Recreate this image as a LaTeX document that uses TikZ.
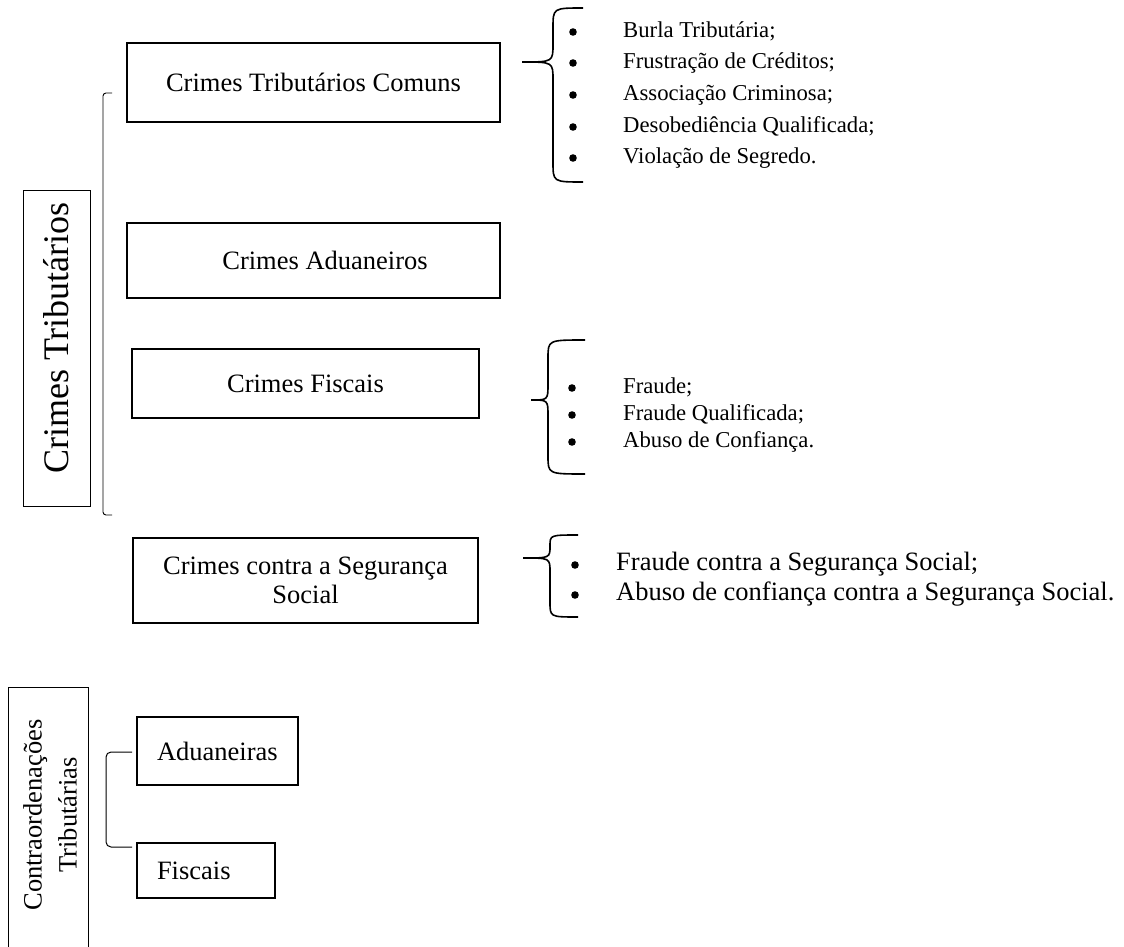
\documentclass[tikz,border=0pt]{standalone}
\usepackage{fontspec}
\setmainfont{Liberation Serif}
\usetikzlibrary{positioning}
\newcommand{\tamDoze}{\fontsize{22.7}{27}\selectfont}
\newcommand{\tamCatorze}{\fontsize{26.5}{31}\selectfont}
\newcommand{\tamGrande}{\fontsize{36}{40}\selectfont}

\begin{document}
\begin{tikzpicture}[x=1pt,y=-1pt,
  caixa/.style={draw,line width=2pt,inner sep=0pt,font=\tamCatorze,align=center},
  item/.style={anchor=west,inner sep=0pt,font=\tamDoze,text height=16pt,text depth=5pt},
  chaveta/.style={line width=1.6pt},
  traco/.style={line width=0.9pt,rounded corners=3pt}]
\useasboundingbox (0,0) rectangle (1124,947);

% crimes tributarios
\draw[line width=1pt] (23,190) rectangle (90,506);
\node[rotate=90,inner sep=0pt,font=\tamGrande] (tributarios) at (56.5,338) {Crimes Tributários};
\draw[traco] (112,93) -- (103,93) -- (103,515) -- (112,515);

\node[caixa,minimum width=373,minimum height=79] (comuns) at (313.5,82.5) {Crimes Tributários Comuns};
\node[caixa,minimum width=373,minimum height=75] (aduaneiros) at (313.5,260.5) {\hspace*{23pt}Crimes Aduaneiros};
\node[caixa,line width=1.5pt,minimum width=347,minimum height=69] (fiscais) at (305.5,383.5) {Crimes Fiscais};
\node[caixa,minimum width=345,minimum height=85] (seguranca) at (305.5,580.5) {Crimes contra a Segurança\\[-2pt]Social};

% chavetas
\draw[chaveta] (583,8) .. controls (553,8) .. (553,28) -- (553,44) .. controls (553,62) .. (522,62) .. controls (553,62) .. (553,80) -- (553,162) .. controls (553,182) .. (583,182);
\draw[chaveta] (585,340) .. controls (548,340) .. (548,358) -- (548,384) .. controls (548,400) .. (531,400) .. controls (548,400) .. (548,416) -- (548,456) .. controls (548,474) .. (585,474);
\draw[chaveta] (578,535) .. controls (550,535) .. (550,546) .. controls (550,558) .. (523,558) .. controls (550,558) .. (550,572) -- (550,602) .. controls (550,617) .. (578,617);

% listas
\foreach \y/\t [count=\i] in {32/{Burla Tributária;},63/{Frustração de Créditos;},95/{Associação Criminosa;},127/{Desobediência Qualificada;},158/{Violação de Segredo.}} {
  \fill (573,\y) circle (3.8pt);
  \node[item] (comum\i) at (623,\y) {\t};
}
\foreach \y/\t [count=\i] in {388/{Fraude;},415/{Fraude Qualificada;},442/{Abuso de Confiança.}} {
  \fill (572,\y) circle (3.8pt);
  \node[item] (fiscal\i) at (623,\y) {\t};
}
\foreach \y/\t [count=\i] in {565/{Fraude contra a Segurança Social;},595/{Abuso de confiança contra a Segurança Social.}} {
  \fill (575,\y) circle (3.8pt);
  \node[item,font=\tamCatorze] (social\i) at (616,\y) {\t};
}

% contraordenacoes
\draw[line width=1pt] (8,990) -- (8,687) -- (88,687) -- (88,990);
\node[rotate=90,align=center,inner sep=0pt,font=\fontsize{26.5}{35}\selectfont] (contra) at (50,815) {Contraordenações\\Tributárias};
\draw[traco,line width=1pt,rounded corners=5pt] (132,752) -- (106,752) -- (106,847) -- (132,847);
\node[caixa,minimum width=161,minimum height=68,inner xsep=20pt,text width=121pt,align=left] (aduaneiras) at (217.5,751) {Aduaneiras};
\node[caixa,minimum width=138,minimum height=55,inner xsep=20pt,text width=98pt,align=left] (fisc) at (206,870.5) {Fiscais};
\end{tikzpicture}
\end{document}
